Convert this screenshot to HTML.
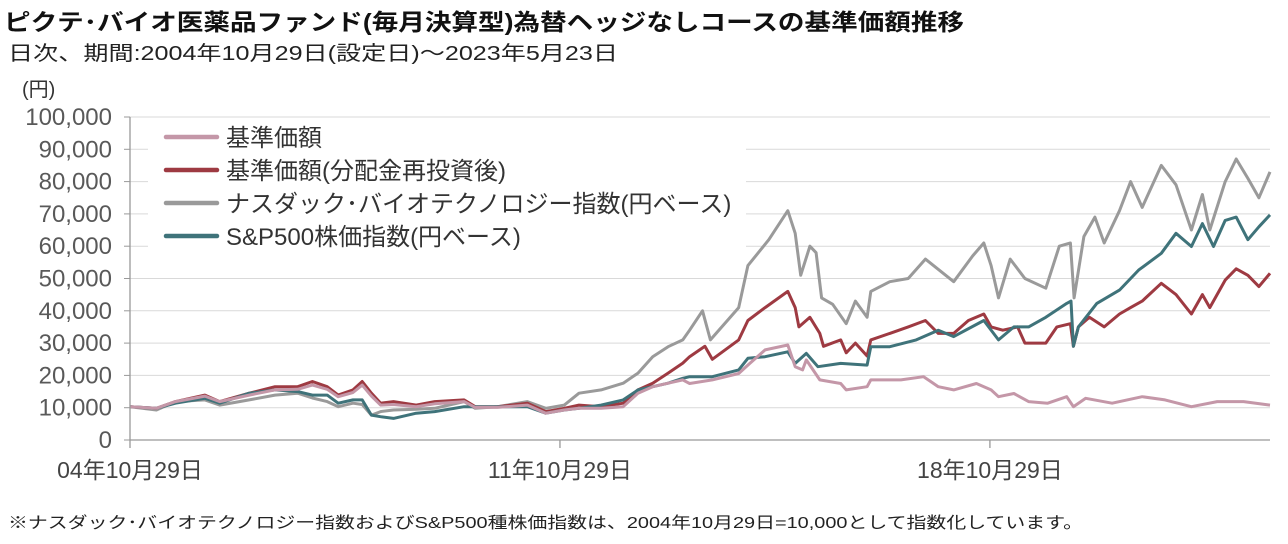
<!DOCTYPE html>
<html lang="ja"><head><meta charset="utf-8">
<style>
html,body{margin:0;padding:0;background:#fff;}
body{width:1288px;height:539px;overflow:hidden;font-family:"Liberation Sans","Noto Sans CJK JP",sans-serif;}
svg text{font-family:"Liberation Sans","Noto Sans CJK JP",sans-serif;}
</style></head>
<body>
<svg id="chart" width="1288" height="539" viewBox="0 0 1288 539" xmlns="http://www.w3.org/2000/svg">
<text x="4" y="30" font-size="23" font-weight="bold" fill="#111" textLength="960" lengthAdjust="spacingAndGlyphs">ピクテ･バイオ医薬品ファンド(毎月決算型)為替ヘッジなしコースの基準価額推移</text>
<text x="8" y="60" font-size="20" fill="#222" textLength="610" lengthAdjust="spacingAndGlyphs">日次、期間:2004年10月29日(設定日)～2023年5月23日</text>
<text x="22" y="96" font-size="20" fill="#333">(円)</text>
<g id="grid"></g>
<g id="series"></g>
<rect x="148" y="119" width="598" height="140" fill="#fff"/>
<g id="legend"></g>
<g id="axes"></g>
<text x="8" y="528" font-size="16" fill="#222" textLength="1075" lengthAdjust="spacingAndGlyphs">※ナスダック･バイオテクノロジー指数およびS&amp;P500種株価指数は、2004年10月29日=10,000として指数化しています。</text>
</svg>
<script>
const yTicks=[0,10000,20000,30000,40000,50000,60000,70000,80000,90000,100000];
const yTickLabels=["0","10,000","20,000","30,000","40,000","50,000","60,000","70,000","80,000","90,000","100,000"];
const xTickDates=[2004.83,2011.83,2018.83];
const xTickLabels=["04年10月29日","11年10月29日","18年10月29日"];
const seriesNames=["基準価額","基準価額(分配金再投資後)","ナスダック･バイオテクノロジー指数(円ベース)","S&P500株価指数(円ベース)"];
const seriesColors=["#c497a8","#9e3a42","#9a9a9a","#3f737a"];
const earlyDates=[2004.83,2005.26,2005.57,2006.05,2006.29,2006.77,2007.19,2007.56,2007.8,2008.04,2008.22,2008.46,2008.61,2008.76,2008.91,2009.12,2009.49,2009.79,2010.27,2010.45,2010.81,2011.3,2011.6,2011.9,2012.14,2012.5,2012.86,2013.1,2013.34,2013.59,2013.83];
const grayEarly=[10.3,9.3,11.9,12.4,10.8,12.4,13.9,14.5,13,11.9,10.3,11.4,11,7.7,8.8,9.3,9.5,9.8,11.9,9.8,10.3,11.9,9.8,10.8,14.5,15.5,17.6,20.7,25.8,28.9,31];
const redEarly=[10.3,9.8,11.9,13.9,11.9,14.5,16.5,16.5,18.1,16.5,13.9,15.5,18.1,14.5,11.4,11.9,10.8,11.9,12.4,10.3,10.3,11.4,8.8,9.8,10.8,10.3,11.4,15.5,17.6,20.7,23.8];
const tealEarly=[10.3,9.8,11.4,12.9,11.4,14.5,15.5,15,13.9,13.9,11.4,12.4,12.4,7.7,7.2,6.7,8.3,8.8,10.3,10.3,10.3,10.3,8.3,9.3,9.8,10.8,12.4,15.5,16.5,17.6,19.1];
const pinkEarly=[10.3,9.8,11.9,13.6,11.9,13.9,15.5,15.7,17,15.7,13.4,14.7,17,13.6,10.8,11,10.3,11.2,11.9,10.1,10.1,10.8,8.3,9.3,9.8,9.8,10.3,14.5,16.5,17.6,18.6];
const grayDates=[2013.94,2014.15,2014.28,2014.74,2014.89,2015.23,2015.54,2015.66,2015.75,2015.9,2016.0,2016.09,2016.27,2016.49,2016.64,2016.83,2016.89,2017.2,2017.5,2017.78,2018.24,2018.55,2018.73,2018.85,2018.97,2019.16,2019.4,2019.74,2019.96,2020.14,2020.2,2020.36,2020.54,2020.69,2020.94,2021.12,2021.31,2021.62,2021.86,2022.11,2022.29,2022.41,2022.66,2022.84,2023.03,2023.21,2023.39];
const grayLate=[34,40,31,41,54,62,71,64,51,60,58,44,42,36,43,38,46,49,50,56,49,57,61,54,44,56,50,47,60,61,44,63,69,61,71,80,72,85,79,65,76,65,80,87,81,75,83];
const redDates=[2013.94,2014.19,2014.31,2014.74,2014.89,2015.17,2015.54,2015.66,2015.72,2015.9,2016.06,2016.12,2016.4,2016.49,2016.64,2016.83,2016.89,2017.2,2017.5,2017.78,2017.99,2018.24,2018.48,2018.73,2018.85,2019.04,2019.28,2019.4,2019.74,2019.92,2020.14,2020.19,2020.27,2020.45,2020.69,2020.94,2021.12,2021.31,2021.62,2021.86,2022.11,2022.29,2022.41,2022.66,2022.84,2023.03,2023.21,2023.39];
const redLate=[25.8,29,25,31,37,41,46,41,35,38,33,29,31,27,30,26,31,33,35,37,33,33,37,39,35,34,35,30,30,35,36,29,35,38,35,39,41,43,48.5,45,39,45,41,49.5,53,51,47.5,51.6];
const tealDates=[2013.94,2014.31,2014.74,2014.89,2015.17,2015.54,2015.66,2015.84,2016.03,2016.4,2016.83,2016.89,2017.2,2017.63,2017.99,2018.24,2018.73,2018.97,2019.22,2019.46,2019.74,2020.08,2020.15,2020.19,2020.27,2020.57,2020.94,2021.25,2021.62,2021.86,2022.11,2022.29,2022.47,2022.66,2022.84,2023.03,2023.21,2023.39];
const tealLate=[19.6,19.6,21.7,25.3,25.8,27.3,23.7,26.8,22.7,23.7,23.2,28.9,28.9,31,34,32,37,31,35,35,38,42.3,43,29,35,42.3,46.4,52.6,57.8,64,59.9,67,59.9,68,69,62,66,69.7];
const pinkDates=[2013.94,2014.31,2014.74,2014.92,2015.17,2015.54,2015.66,2015.78,2015.84,2016.06,2016.4,2016.49,2016.83,2016.89,2017.38,2017.75,2017.99,2018.24,2018.61,2018.85,2018.97,2019.22,2019.46,2019.77,2020.08,2020.19,2020.39,2020.82,2021.31,2021.68,2022.11,2022.53,2022.96,2023.39];
const pinkLate=[17.5,18.6,20.6,23.7,27.9,29.4,22.7,21.7,24.8,18.6,17.5,15.5,16.5,18.6,18.6,19.6,16.5,15.5,17.5,15.5,13.4,14.4,11.9,11.4,13.4,10.3,12.9,11.4,13.4,12.4,10.3,11.9,11.9,10.8];

const NS="http://www.w3.org/2000/svg";
const X0=130,X1=1270,Y0=440,Y1=117,D0=2004.83,D1=2023.39;
function xs(d){return X0+(d-D0)/(D1-D0)*(X1-X0);}
function ys(v){return Y0-(v/100000)*(Y0-Y1);}
function mk(t,a,p){const e=document.createElementNS(NS,t);for(const k in a)e.setAttribute(k,a[k]);p.appendChild(e);return e;}
const grid=document.getElementById('grid'),axes=document.getElementById('axes'),ser=document.getElementById('series'),leg=document.getElementById('legend');
yTicks.forEach((v,i)=>{
  if(v>0){const g=mk('line',{x1:X0,x2:X1,y1:ys(v),y2:ys(v),stroke:'#d9d9d9','stroke-width':1},grid);
  
  }
  const tk=mk('line',{x1:X0-6,x2:X0,y1:ys(v),y2:ys(v),stroke:'#999','stroke-width':1},axes);
  
  
  const t=mk('text',{x:112,y:ys(v)+8,'font-size':24,fill:'#595959','text-anchor':'end'},axes);
  
  
  t.textContent=yTickLabels[i];
});
const ya=mk('line',{x1:X0,x2:X0,y1:Y1,y2:Y0,stroke:'#999','stroke-width':1.3},axes);


const xa=mk('line',{x1:X0,x2:X1,y1:Y0,y2:Y0,stroke:'#999','stroke-width':1.3},axes);


xTickDates.forEach((d,i)=>{
  const l=mk('line',{x1:xs(d),x2:xs(d),y1:Y0,y2:Y0+8,stroke:'#999','stroke-width':1.3},axes);
  
  
  const t=mk('text',{x:xs(d),y:478,'font-size':23,fill:'#444','text-anchor':'middle'},axes);
  
  
  t.textContent=xTickLabels[i];
});
const allData=[
 [earlyDates.concat(pinkDates),pinkEarly.concat(pinkLate)],
 [earlyDates.concat(redDates),redEarly.concat(redLate)],
 [earlyDates.concat(grayDates),grayEarly.concat(grayLate)],
 [earlyDates.concat(tealDates),tealEarly.concat(tealLate)]];
const order=[2,1,3,0];
const names=['series-nav','series-nav-reinvested','series-nasdaq-biotech','series-sp500'];
order.forEach(i=>{
  const [ds,vs]=allData[i];
  const pts=ds.map((d,j)=>xs(d).toFixed(1)+','+ys(vs[j]*1000).toFixed(1)).join(' ');
  const p=mk('polyline',{points:pts,fill:'none',stroke:seriesColors[i],'stroke-width':3,'stroke-linejoin':'round'},ser);
  
  
});
seriesNames.forEach((n,i)=>{
  const y=137+i*33;
  const l=mk('line',{x1:166,x2:217,y1:y,y2:y,stroke:seriesColors[i],'stroke-width':4.5,'stroke-linecap':'round'},leg);
  
  
  const t=mk('text',{x:226,y:y+9,'font-size':24,fill:'#333'},leg);
  
  
  t.textContent=n;
});
</script>
</body></html>
